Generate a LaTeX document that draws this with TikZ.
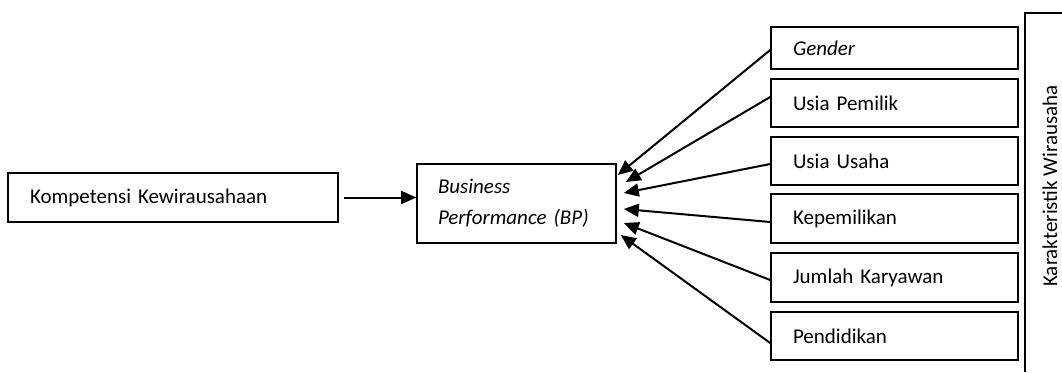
\documentclass[tikz,border=0pt]{standalone}
\usepackage{fontspec}
\setmainfont{Carlito}
\usetikzlibrary{arrows.meta,calc}
\tikzset{
  box/.style={draw, line width=1.6pt, rectangle, inner xsep=22pt, inner ysep=0pt, align=left, font=\fontsize{21}{31}\selectfont},
  conn/.style={line width=2pt, -{Triangle[length=15pt,width=13pt]}},
}
\begin{document}
\begin{tikzpicture}[x=1pt,y=-1pt]
\useasboundingbox (0,0) rectangle (1062,372);
% main boxes
\node[box, text width=286pt, minimum height=49pt] (k) at (173,197.5) {Kompetensi Kewirausahaan};
\node[box, inner xsep=21pt, text width=157pt, minimum height=79pt] (bp) at (516.5,203.5) {\itshape Business\\\itshape Performance (BP)};
% characteristic boxes
\node[box, text width=203pt, minimum height=42pt] (g) at (894.5,48) {\itshape Gender};
\node[box, text width=203pt, minimum height=48pt] (up) at (894.5,103) {Usia Pemilik};
\node[box, text width=203pt, minimum height=48pt] (uu) at (894.5,161) {Usia Usaha};
\node[box, text width=203pt, minimum height=49pt] (kp) at (894.5,218.5) {Kepemilikan};
\node[box, text width=203pt, minimum height=49pt] (jk) at (894.5,277.5) {Jumlah Karyawan};
\node[box, text width=203pt, minimum height=48pt] (pd) at (894.5,336) {Pendidikan};
% group label
\node[font=\fontsize{21}{25}\selectfont, rotate=90, inner sep=0pt] (kw) at (1050,186) {Karakteristik Wirausaha};
\draw[line width=1.6pt] (1062,13) -- (1025,13) -- (1025,372);
% arrow tips near BP
\coordinate (t1) at ($(bp.east)+(1,-28.5)$);
\coordinate (t2) at ($(bp.east)+(9,-21.5)$);
\coordinate (t3) at ($(bp.east)+(7,-10.5)$);
\coordinate (t4) at ($(bp.east)+(7,5.5)$);
\coordinate (t5) at ($(bp.east)+(7,19.5)$);
\coordinate (t6) at ($(bp.east)+(4,31.5)$);
% connectors
\draw[conn, shorten <=5pt] (k.east) -- (k.east -| bp.west);
\draw[conn] ($(g.west)+(0,2)$) -- (t1);
\draw[conn] ($(up.west)+(0,-6)$) -- (t2);
\draw[conn] ($(uu.west)+(0,3)$) -- (t3);
\draw[conn] ($(kp.west)+(0,3.5)$) -- (t4);
\draw[conn] ($(jk.west)+(0,2.5)$) -- (t5);
\draw[conn] ($(pd.west)+(0,7)$) -- (t6);
\end{tikzpicture}
\end{document}
